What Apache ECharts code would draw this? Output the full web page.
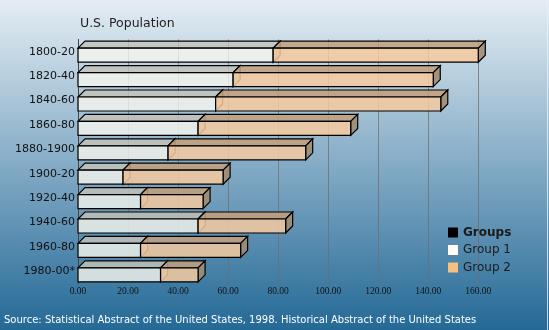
<!DOCTYPE html>
<html><head><meta charset="utf-8">
<script src="https://cdn.jsdelivr.net/npm/echarts@6/dist/echarts.min.js"></script>
<style>html,body{margin:0;padding:0;}#c{width:549px;height:330px;}</style>
</head><body><div id="c"></div>
<script>
const categories = ['1800-20','1820-40','1840-60','1860-80','1880-1900','1900-20','1920-40','1940-60','1960-80','1980-00*'];
const group1 = [78, 62, 55, 48, 36, 18, 25, 48, 25, 33];
const group2 = [82, 80, 90, 61, 55, 40, 25, 35, 40, 15];
const xTicks = [0, 20, 40, 60, 80, 100, 120, 140, 160];

const D = 7, FH = 14;
function makeRender(front, top, side) {
  return function (params, api) {
    const ci = api.value(0), s = api.value(1), e = api.value(2);
    const p0 = api.coord([s, ci]), p1 = api.coord([e, ci]);
    const x0 = p0[0], x1 = p1[0], cy = p0[1];
    const ft = cy - 3.5, fb = ft + FH;
    const st = { stroke: '#000', lineWidth: 1.2, lineJoin: 'miter' };
    return { type: 'group', children: [
      { type: 'polygon', shape: { points: [[x0, ft], [x0 + D, ft - D], [x1 + D, ft - D], [x1, ft]] }, style: Object.assign({ fill: top }, st) },
      { type: 'polygon', shape: { points: [[x1, ft], [x1 + D, ft - D], [x1 + D, fb - D], [x1, fb]] }, style: Object.assign({ fill: side }, st) },
      { type: 'rect', shape: { x: x0, y: ft, width: x1 - x0, height: FH }, style: Object.assign({ fill: front }, st) }
    ]};
  };
}
const d1 = categories.map((c, i) => [i, 0, group1[i]]);
const d2 = categories.map((c, i) => [i, group1[i], group1[i] + group2[i]]);

const chart = echarts.init(document.getElementById('c'));
chart.setOption({
  animation: false,
  backgroundColor: { type: 'linear', x: 0, y: 0, x2: 0, y2: 1, colorStops: [
    { offset: 0, color: '#e4edf3' }, { offset: 0.5, color: '#84abc6' }, { offset: 1, color: '#246996' }] },
  title: { text: 'U.S. Population', left: 75, top: 12, textStyle: { fontFamily: 'DejaVu Sans', fontSize: 12.5, fontWeight: 'normal', color: '#222' } },
  grid: { left: 78, top: 39.5, width: 400.3, height: 244 },
  xAxis: { type: 'value', min: 0, max: 160, interval: 20,
    axisLine: { show: false }, axisTick: { show: false },
    splitLine: { lineStyle: { color: 'rgba(110,110,110,0.75)', width: 1 } },
    axisLabel: { margin: 3, fontFamily: 'Liberation Serif', fontSize: 9.5, color: '#111', formatter: v => v.toFixed(2) } },
  yAxis: { type: 'category', data: categories, inverse: true,
    axisLine: { show: true, lineStyle: { color: '#444', width: 1 } }, axisTick: { show: false },
    axisLabel: { margin: 3, fontFamily: 'DejaVu Sans', fontSize: 11, color: '#111', padding: [0, 0, 9, 0] } },
  legend: { orient: 'vertical', left: 443, top: 221.5, itemWidth: 10, itemHeight: 10, itemGap: 5.5, icon: 'rect',
    textStyle: { fontFamily: 'DejaVu Sans', fontSize: 12, color: '#1a1a1a' },
    data: [{ name: 'Groups', textStyle: { fontWeight: 'bold' } }, 'Group 1', 'Group 2'] },
  series: [
    { name: 'Groups', type: 'custom', data: [], itemStyle: { color: '#000' }, renderItem: () => null },
    { name: 'Group 1', type: 'custom', clip: false, itemStyle: { color: '#fffaf2' }, data: d1,
      encode: { x: [1, 2], y: 0 }, renderItem: makeRender('rgba(246,246,238,0.8)', 'rgba(195,195,185,0.82)', 'rgba(165,165,155,0.8)') },
    { name: 'Group 2', type: 'custom', clip: false, itemStyle: { color: '#f8c080' }, data: d2,
      encode: { x: [1, 2], y: 0 }, renderItem: makeRender('rgba(246,202,160,0.85)', 'rgba(195,160,125,0.86)', 'rgba(160,140,115,0.9)') }
  ],
  graphic: [
    { type: 'text', left: 4, top: 315, style: { text: 'Source: Statistical Abstract of the United States, 1998. Historical Abstract of the United States', fill: '#fff', font: '10px "DejaVu Sans"' } },
    { type: 'line', shape: { x1: 547.5, y1: 0, x2: 547.5, y2: 330 }, style: { stroke: 'rgba(235,240,245,0.8)', lineWidth: 1 } }
  ]
});
</script></body></html>
